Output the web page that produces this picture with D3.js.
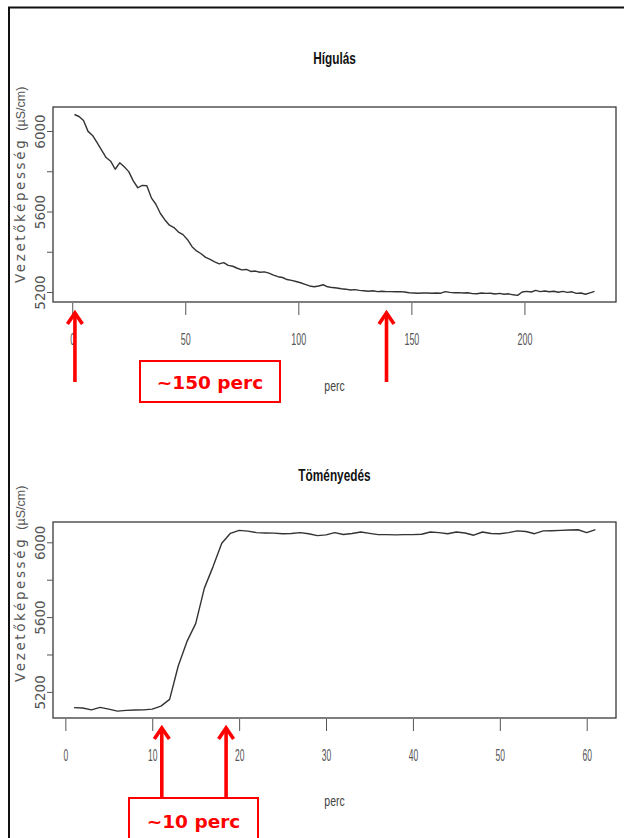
<!DOCTYPE html>
<html>
<head>
<meta charset="utf-8">
<script src="https://cdn.jsdelivr.net/npm/d3@7"></script>
<style>
  html, body { margin: 0; padding: 0; background: #fff; }
  svg { display: block; }
</style>
</head>
<body>
<svg id="chart" width="624" height="838"></svg>
<script>
// Hígulás: conductivity (µS/cm) sampled every two minutes
const dilutionMinutes = [
  1, 3, 5, 7, 9, 11, 13, 15, 17, 19, 21, 23, 25, 27, 29, 31, 33, 35, 37, 39,
  41, 43, 45, 47, 49, 51, 53, 55, 57, 59, 61, 63, 65, 67, 69, 71, 73, 75, 77, 79,
  81, 83, 85, 87, 89, 91, 93, 95, 97, 99, 101, 103, 105, 107, 109, 111, 113, 115, 117, 119,
  121, 123, 125, 127, 129, 131, 133, 135, 137, 139, 141, 143, 145, 147, 149, 151, 153, 155, 157, 159,
  161, 163, 165, 167, 169, 171, 173, 175, 177, 179, 181, 183, 185, 187, 189, 191, 193, 195, 197, 199,
  201, 203, 205, 207, 209, 211, 213, 215, 217, 219, 221, 223, 225, 227, 229, 231
];
const dilutionValues = [
  6082, 6072, 6052, 5998, 5978, 5942, 5905, 5868, 5850, 5810, 5842, 5822, 5798, 5752, 5718, 5730, 5728, 5668, 5636, 5590,
  5558, 5532, 5520, 5498, 5485, 5460, 5425, 5404, 5390, 5372, 5362, 5350, 5340, 5346, 5332, 5328, 5318, 5310, 5312, 5302,
  5304, 5298, 5300, 5294, 5284, 5276, 5272, 5262, 5258, 5252, 5246, 5238, 5230, 5226, 5230, 5236, 5226, 5222, 5220, 5216,
  5214, 5210, 5212, 5208, 5206, 5204, 5206, 5202, 5204, 5202, 5202, 5201, 5202, 5200, 5196, 5195, 5194, 5195, 5195, 5194,
  5195, 5194, 5202, 5198, 5196, 5197, 5195, 5196, 5192, 5191, 5195, 5193, 5194, 5190, 5193, 5189, 5191, 5186, 5183, 5200,
  5203, 5200, 5208, 5202, 5205, 5201, 5204, 5199, 5203, 5198, 5201, 5193, 5195, 5189, 5196, 5203
];

// Töményedés: conductivity (µS/cm) sampled every minute
const concMinutes = [
  1, 2, 3, 4, 5, 6, 7, 8, 9, 10, 11, 12, 13, 14, 15, 16, 17, 18, 19, 20,
  21, 22, 23, 24, 25, 26, 27, 28, 29, 30, 31, 32, 33, 34, 35, 36, 37, 38, 39, 40,
  41, 42, 43, 44, 45, 46, 47, 48, 49, 50, 51, 52, 53, 54, 55, 56, 57, 58, 59, 60, 61
];
const concValues = [
  5116, 5114, 5104, 5117, 5108, 5097, 5101, 5103, 5104, 5108, 5124, 5160, 5340, 5470, 5565, 5755, 5870, 5995, 6048, 6064,
  6060, 6052, 6050, 6049, 6046, 6047, 6052, 6046, 6036, 6040, 6052, 6042, 6047, 6055, 6048, 6041, 6041, 6040, 6041, 6041,
  6043, 6055, 6052, 6046, 6055, 6050, 6038, 6055, 6047, 6046, 6052, 6061, 6058, 6046, 6061, 6062, 6064, 6066, 6067, 6052, 6068
];

// Axis ticks
const yTicks = [5200, 5400, 5600, 5800, 6000];
const yTickLabels = [5200, 5600, 6000];
const dilutionXTicks = [0, 50, 100, 150, 200];
const concXTicks = [0, 10, 20, 30, 40, 50, 60];

// Texts
const titles = ["Hígulás", "Töményedés"];
const xLabel = "perc";
const yLabelMain = "Vezetőképesség";
const yLabelUnit = "(µS/cm)";

// Red call-outs: arrow positions (minutes) and boxed notes
const dilutionArrows = [1.2, 139];
const concArrows = [11.1, 18.5];
const notes = ["~150 perc", "~10 perc"];

const svg = d3.select("#chart");

// outer frame (left and top edges)
svg.append("path")
  .attr("d", "M9,838 L9,7.5 L624,7.5")
  .attr("fill", "none")
  .attr("stroke", "#111")
  .attr("stroke-width", 2);

function drawPanel(cfg) {
  const g = svg.append("g");
  const x = d3.scaleLinear().domain(cfg.xDomain).range([53, 616]);
  const y = d3.scaleLinear().domain(cfg.yDomain).range([cfg.bottom, cfg.top]);

  // plot box
  g.append("rect")
    .attr("x", 53).attr("y", cfg.top)
    .attr("width", 616 - 53).attr("height", cfg.bottom - cfg.top)
    .attr("fill", "none").attr("stroke", "#3a3a3a").attr("stroke-width", 1.3);

  // series line
  const pts = cfg.xs.map((t, i) => [t, cfg.vs[i]]);
  g.append("path")
    .datum(pts)
    .attr("fill", "none")
    .attr("stroke", "#333")
    .attr("stroke-width", 1.4)
    .attr("stroke-linejoin", "round")
    .attr("d", d3.line().x(d => x(d[0])).y(d => y(d[1])));

  // y axis
  const ya = g.append("g")
    .attr("transform", "translate(53,0)")
    .call(d3.axisLeft(y).tickValues(yTicks).tickSize(6)
      .tickFormat(d => yTickLabels.includes(d) ? String(d) : ""));
  ya.select(".domain").remove();
  ya.selectAll(".tick line").attr("stroke", "#555");
  ya.selectAll(".tick text")
    .attr("x", null).attr("dy", null)
    .attr("transform", "translate(-8,0) rotate(-90)")
    .attr("text-anchor", "middle")
    .attr("fill", "#555")
    .style("font-family", "'DejaVu Sans', Verdana, sans-serif")
    .style("font-size", "13.5px");

  // x axis
  const xa = g.append("g")
    .attr("transform", `translate(0,${cfg.bottom + 1})`)
    .call(d3.axisBottom(x).tickValues(cfg.xTicks).tickSize(12));
  xa.select(".domain").remove();
  xa.selectAll(".tick line").attr("stroke", "#555");
  xa.selectAll(".tick text")
    .attr("y", cfg.xLabelY).attr("dy", null)
    .attr("transform", `scale(${cfg.xLabelScale},1)`)
    .attr("fill", "#555")
    .style("font-family", "'Liberation Sans', Arial, sans-serif")
    .style("font-size", cfg.xLabelSize + "px");

  // title
  g.append("text")
    .attr("transform", `translate(334.5,${cfg.titleY}) scale(0.74,1)`)
    .attr("text-anchor", "middle")
    .attr("fill", "#111")
    .style("font-family", "'Liberation Sans', Arial, sans-serif")
    .style("font-weight", "bold")
    .style("font-size", "16px")
    .text(cfg.title);

  // x label
  g.append("text")
    .attr("transform", `translate(334.5,${cfg.xTitleY}) scale(0.7,1)`)
    .attr("text-anchor", "middle")
    .attr("fill", "#444")
    .style("font-family", "'Liberation Sans', Arial, sans-serif")
    .style("font-size", "15px")
    .text(xLabel);

  // y label
  const yl = g.append("text")
    .attr("transform", `translate(25,${cfg.yTitleStart}) rotate(-90)`)
    .attr("fill", "#555");
  yl.append("tspan")
    .style("font-family", "'DejaVu Sans', Verdana, sans-serif")
    .style("font-size", "13.5px")
    .style("letter-spacing", "2.6px")
    .text(yLabelMain);
  yl.append("tspan")
    .attr("dx", 7)
    .style("font-family", "'Liberation Sans', Arial, sans-serif")
    .style("font-size", "12.5px")
    .text(yLabelUnit);

  // red arrows
  cfg.arrows.forEach(m => {
    const ax = x(m);
    g.append("path")
      .attr("d", `M${ax},${cfg.arrowEnd} L${ax},${cfg.arrowTip + 2}`)
      .attr("stroke", "#ff0000").attr("stroke-width", 3.6).attr("fill", "none");
    g.append("path")
      .attr("d", `M${ax - 7.5},${cfg.arrowTip + 12} L${ax},${cfg.arrowTip + 1} L${ax + 7.5},${cfg.arrowTip + 12}`)
      .attr("stroke", "#ff0000").attr("stroke-width", 3.6).attr("fill", "none")
      .attr("stroke-linejoin", "miter");
  });

  // boxed note
  const nb = cfg.noteBox;
  g.append("rect")
    .attr("x", nb[0]).attr("y", nb[1]).attr("width", nb[2]).attr("height", nb[3])
    .attr("fill", "#fff").attr("stroke", "#ff0000").attr("stroke-width", 2);
  g.append("text")
    .attr("x", nb[0] + nb[2] / 2).attr("y", cfg.noteY)
    .attr("text-anchor", "middle")
    .attr("fill", "#ff0000")
    .style("font-family", "'DejaVu Sans', Verdana, sans-serif")
    .style("font-weight", "bold")
    .style("font-size", "18.5px")
    .text(cfg.note);
}

drawPanel({
  xs: dilutionMinutes, vs: dilutionValues,
  xDomain: [-8.5, 240.5], yDomain: [5150.3, 6119.2],
  top: 107, bottom: 302,
  xTicks: dilutionXTicks, xLabelY: 42, xLabelScale: 0.56, xLabelSize: 16,
  title: titles[0], titleY: 64, xTitleY: 391, yTitleStart: 283,
  arrows: dilutionArrows, arrowTip: 312, arrowEnd: 382,
  noteBox: [140, 361, 140, 41], noteY: 389, note: notes[0]
});

drawPanel({
  xs: concMinutes, vs: concValues,
  xDomain: [-1.42, 63.37], yDomain: [5060.4, 6108.6],
  top: 522, bottom: 718,
  xTicks: concXTicks, xLabelY: 42, xLabelScale: 0.5, xLabelSize: 17,
  title: titles[1], titleY: 481, xTitleY: 806, yTitleStart: 682,
  arrows: concArrows, arrowTip: 727, arrowEnd: 798,
  noteBox: [129, 798, 129, 60], noteY: 828, note: notes[1]
});
</script>
</body>
</html>
